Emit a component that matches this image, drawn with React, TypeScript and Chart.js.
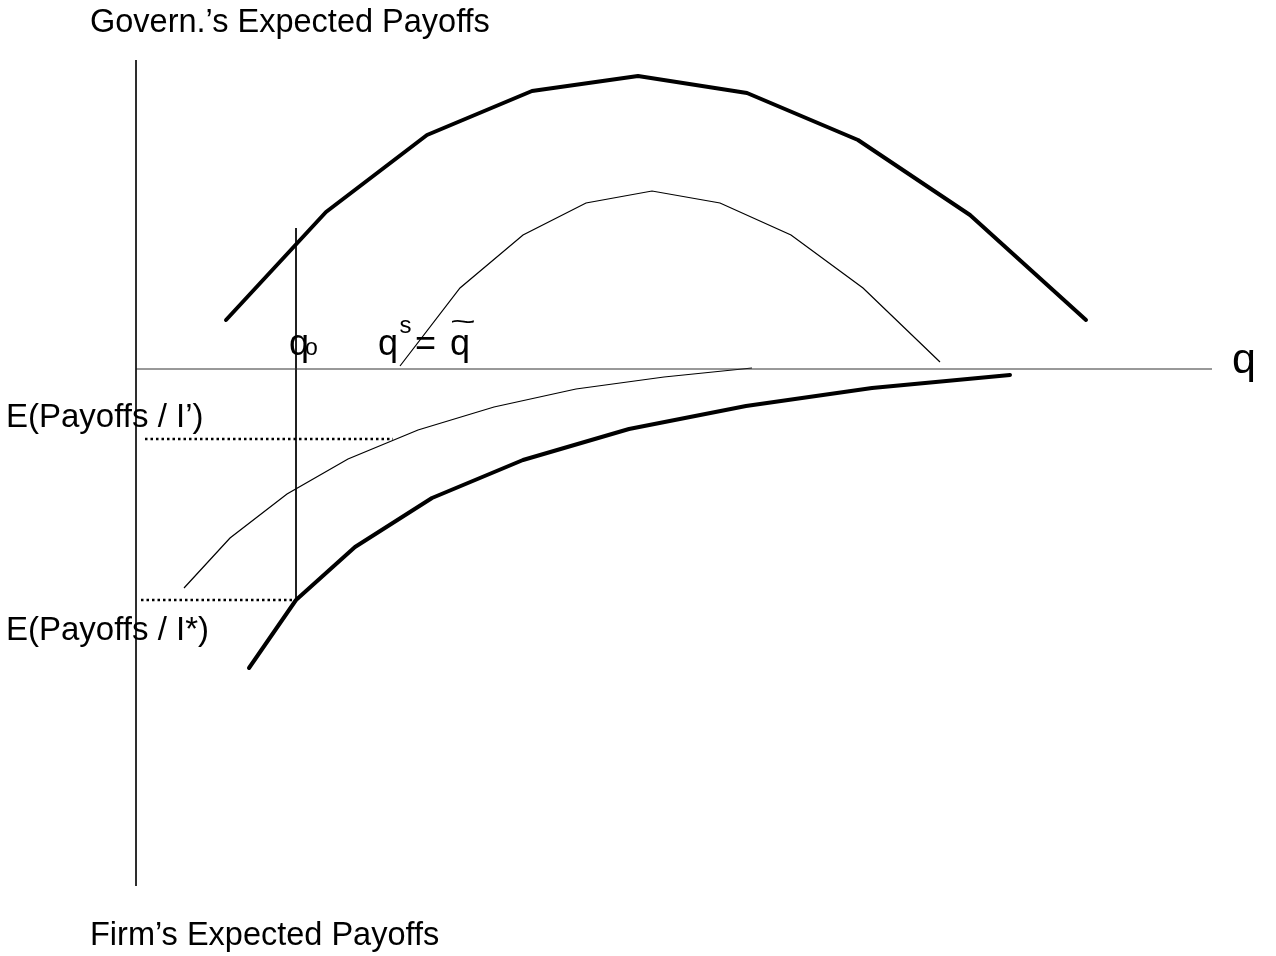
import React, { useEffect, useRef } from "react";
import { Chart, registerables } from "chart.js";

Chart.register(...registerables);

// q on the horizontal axis, payoffs on the vertical axis (origin = axes crossing)
const govThickQ = [0.9, 1.9, 2.91, 3.96, 5.02, 6.11, 7.22, 8.34, 9.5];
const govThickPay = [0.49, 1.57, 2.34, 2.78, 2.93, 2.76, 2.29, 1.54, 0.49];

const govThinQ = [2.64, 3.24, 3.87, 4.5, 5.16, 5.84, 6.55, 7.27, 8.04];
const govThinPay = [0.03, 0.81, 1.34, 1.66, 1.78, 1.66, 1.34, 0.81, 0.07];

const firmThinQ = [0.48, 0.94, 1.51, 2.12, 2.82, 3.58, 4.4, 5.28, 6.16];
const firmThinPay = [-2.19, -1.69, -1.25, -0.9, -0.61, -0.38, -0.2, -0.08, 0.01];

const firmThickQ = [1.13, 1.6, 2.19, 2.96, 3.87, 4.93, 6.1, 7.36, 8.74];
const firmThickPay = [-2.99, -2.31, -1.78, -1.29, -0.91, -0.6, -0.37, -0.19, -0.06];

const qO = 1.6;
const qOTop = 1.41;
const payIPrime = -0.7;
const payIStar = -2.31;
const dottedStartIPrime = 0.09;
const dottedEndIPrime = 2.57;
const dottedStartIStar = 0.05;

const yAxisTop = 3.09;
const yAxisBottom = -5.17;
const xAxisEnd = 10.76;

const labelTexts = [
  "Govern.\u2019s Expected Payoffs",
  "Firm\u2019s Expected Payoffs",
  "E(Payoffs / I\u2019)",
  "E(Payoffs / I*)",
  "q",
];

const pts = (xs: number[], ys: number[]) => xs.map((x, i) => ({ x, y: ys[i] }));

const FONT = "'Liberation Sans', Arial, sans-serif";

type Lbl = { t: string; x: number; y: number; size: number; sx?: number };

const labels: Lbl[] = [
  { t: labelTexts[0], x: -0.46, y: 3.37, size: 32.5 },
  { t: labelTexts[1], x: -0.46, y: -5.76, size: 32.5 },
  { t: labelTexts[2], x: -1.3, y: -0.58, size: 33 },
  { t: labelTexts[3], x: -1.3, y: -2.71, size: 33 },
  { t: labelTexts[4], x: 10.96, y: -0.04, size: 43 },
  { t: "q", x: 1.53, y: 0.14, size: 36 },
  { t: "o", x: 1.69, y: 0.14, size: 23 },
  { t: "q", x: 2.42, y: 0.14, size: 36 },
  { t: "s", x: 2.635, y: 0.36, size: 24 },
  { t: "=", x: 2.79, y: 0.14, size: 36 },
  { t: "q", x: 3.14, y: 0.14, size: 36 },
  { t: "~", x: 3.14, y: 0.39, size: 26, sx: 1.7 },
];

const textPlugin = {
  id: "diagramText",
  afterDatasetsDraw(chart: any) {
    const { ctx, scales } = chart;
    ctx.save();
    ctx.fillStyle = "#000";
    ctx.textBaseline = "alphabetic";
    ctx.textAlign = "left";
    for (const l of labels) {
      ctx.font = `${l.size}px ${FONT}`;
      const px = scales.x.getPixelForValue(l.x);
      const py = scales.y.getPixelForValue(l.y);
      if (l.sx) {
        ctx.save();
        ctx.translate(px, py);
        ctx.scale(l.sx, 1);
        ctx.fillText(l.t, 0, 0);
        ctx.restore();
      } else {
        ctx.fillText(l.t, px, py);
      }
    }
    ctx.restore();
  },
};

export default function App() {
  const ref = useRef<HTMLCanvasElement | null>(null);
  useEffect(() => {
    if (!ref.current) return;
    const common = { pointRadius: 0, fill: false, tension: 0, borderColor: "#000" };
    const chart = new Chart(ref.current, {
      type: "line",
      data: {
        datasets: [
          { ...common, data: [{ x: 0, y: yAxisTop }, { x: 0, y: yAxisBottom }], borderWidth: 1, borderColor: "#111" },
          { ...common, data: [{ x: 0, y: 0 }, { x: xAxisEnd, y: 0 }], borderWidth: 1, borderColor: "#333" },
          { ...common, data: [{ x: qO, y: qOTop }, { x: qO, y: payIStar }], borderWidth: 1 },
          {
            ...common,
            data: [{ x: dottedStartIPrime, y: payIPrime }, { x: dottedEndIPrime, y: payIPrime }],
            borderWidth: 2.5,
            borderDash: [2.5, 3],
          },
          {
            ...common,
            data: [{ x: dottedStartIStar, y: payIStar }, { x: qO, y: payIStar }],
            borderWidth: 2.5,
            borderDash: [2.5, 3],
          },
          { ...common, data: pts(govThickQ, govThickPay), borderWidth: 4, borderCapStyle: "round", borderJoinStyle: "round" },
          { ...common, data: pts(govThinQ, govThinPay), borderWidth: 1.2 },
          { ...common, data: pts(firmThinQ, firmThinPay), borderWidth: 1.2 },
          { ...common, data: pts(firmThickQ, firmThickPay), borderWidth: 4, borderCapStyle: "round", borderJoinStyle: "round" },
        ] as any,
      },
      options: {
        responsive: false,
        maintainAspectRatio: false,
        animation: false,
        layout: { padding: 0 },
        plugins: { legend: { display: false }, tooltip: { enabled: false } },
        scales: {
          x: { type: "linear", min: -1.36, max: 11.4, display: false },
          y: { type: "linear", min: -5.87, max: 3.69, display: false },
        },
      },
      plugins: [textPlugin],
    });
    return () => chart.destroy();
  }, []);
  return (
    <div style={{ position: "absolute", left: 0, top: 0, width: 1276, height: 956, background: "#fff" }}>
      <canvas ref={ref} width={1276} height={956} style={{ display: "block" }} />
    </div>
  );
}
